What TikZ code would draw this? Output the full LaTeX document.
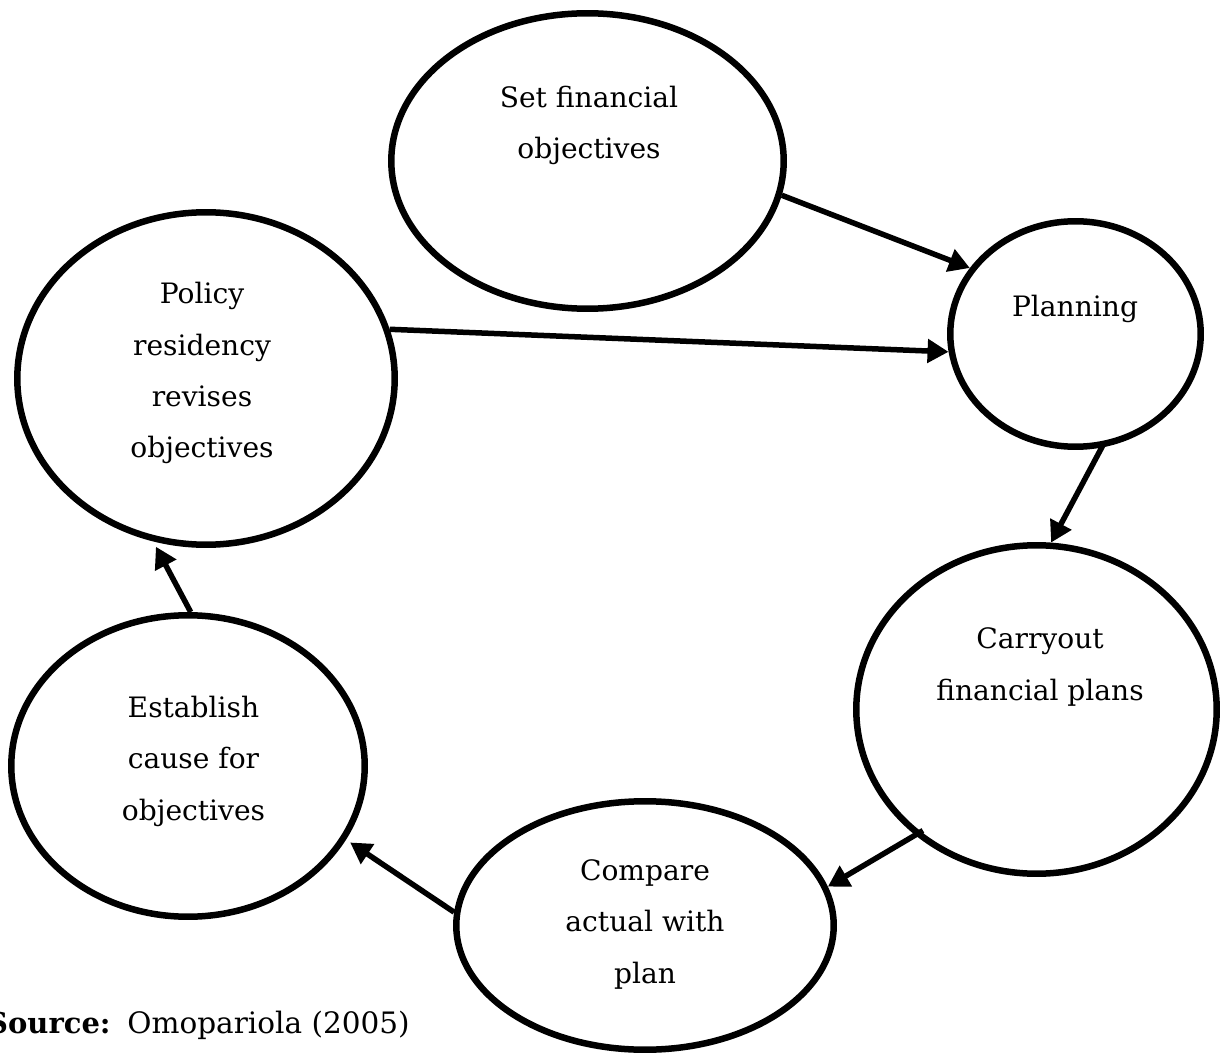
\documentclass[tikz,border=0pt]{standalone}
\usepackage{fontspec}
\setmainfont{DejaVu Serif}
\usetikzlibrary{shapes.geometric,arrows.meta}
\begin{document}
\begin{tikzpicture}[x=0.02cm,y=-0.02cm,
  stage/.style={ellipse,draw,line width=0.13cm,inner sep=0pt},
  % a multi-line caption is placed by the baseline of its last line
  caption/.style={anchor=base,align=center,inner sep=0pt,
    font=\fontsize{16}{29.3}\selectfont},
  flow/.style={line width=0.11cm,-{Triangle[length=0.42cm,width=0.46cm]}}]
\useasboundingbox (0,0) rectangle (1224,1057);

% the six stages of the cycle
\node[stage,minimum width=7.85cm,minimum height=5.91cm] (set) at (587.5,161) {};
\node[stage,minimum width=5.01cm,minimum height=4.51cm] (plan) at (1075.5,334) {};
\node[stage,minimum width=7.55cm,minimum height=6.65cm] (policy) at (206,378.5) {};
\node[stage,minimum width=7.21cm,minimum height=6.57cm] (carry) at (1036.5,709.5) {};
\node[stage,minimum width=7.07cm,minimum height=6.03cm] (establish) at (188,766) {};
\node[stage,minimum width=7.55cm,minimum height=4.97cm] (compare) at (645,925.5) {};

% their texts
\node[caption] (setT) at (589,158.5) {Set financial\\objectives};
\node[caption] (planT) at (1075,317) {Planning};
\node[caption] (policyT) at (202,458) {Policy\\residency\\revises\\objectives};
\node[caption] (carryT) at (1040,700) {Carryout\\financial plans};
\node[caption] (establishT) at (193.5,820) {Establish\\cause for\\objectives};
\node[caption] (compareT) at (645,983) {Compare\\actual with\\plan};

% connectors
\draw[flow] (set.-10) -- (plan.148);
\draw[flow] (policy.15) -- (plan.188);
\draw[flow,shorten <=-0.09cm] (plan.-77) -- (carry.85);
\draw[flow,shorten <=-0.18cm] (carry.-134) -- (compare.12);
\draw[flow,shorten >=0.1cm] (compare.176) -- (establish.-25);
\draw[flow,shorten >=0.12cm] (establish.89) -- (policy.-108);

% source line
\node[anchor=base east,inner sep=0pt,font=\fontsize{16.5}{20}\selectfont\bfseries] (srcA) at (111,1033) {Source:};
\node[anchor=base west,inner sep=0pt,font=\fontsize{16.8}{20}\selectfont] (srcB) at (127,1033) {Omopariola (2005)};
\end{tikzpicture}
\end{document}
